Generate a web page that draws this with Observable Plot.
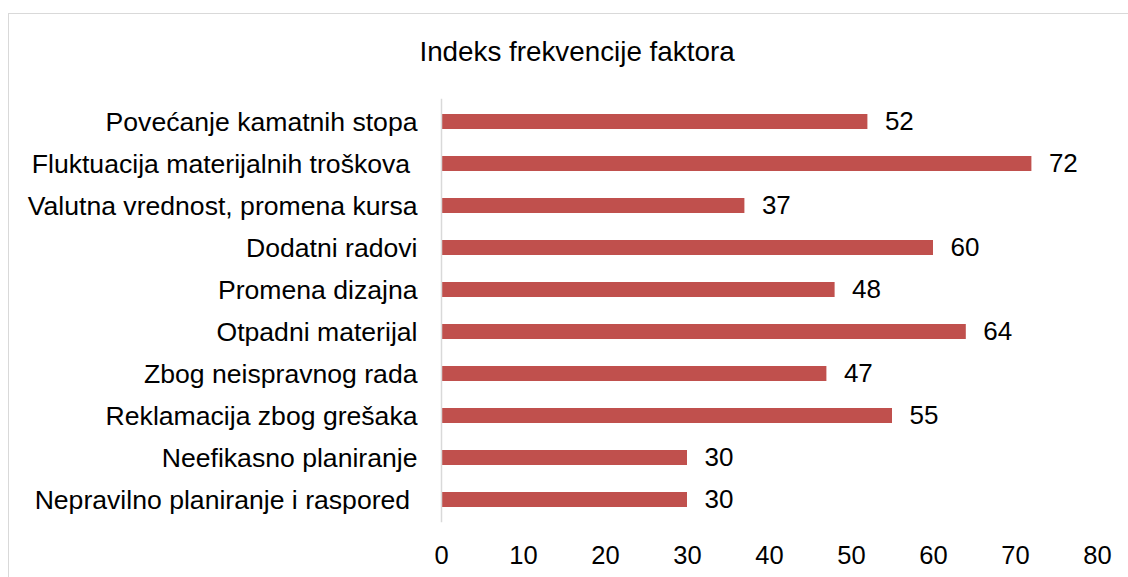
<!DOCTYPE html>
<html>
<head>
<meta charset="utf-8">
<script src="https://cdn.jsdelivr.net/npm/d3@7"></script>
<script src="https://cdn.jsdelivr.net/npm/@observablehq/plot@0.6"></script>
<style>
  html, body { margin: 0; padding: 0; background: #fff; }
  #wrap { position: relative; width: 1128px; height: 577px; overflow: hidden; font-family: "Liberation Sans", Arial, sans-serif; }
  #frame { position: absolute; left: 8px; top: 13px; width: 1300px; height: 800px; border: 1px solid #d9d9d9; box-sizing: border-box; }
  #title { position: absolute; left: 0; top: 37px; width: 1128px; text-align: center; padding-left: 26px; box-sizing: border-box; font-size: 27.8px; line-height: 30px; color: #000; }
  #chart { position: absolute; left: 0; top: 80px; }
  #chart svg text { white-space: pre; }
</style>
</head>
<body>
<div id="wrap">
  <div id="frame"></div>
  <div id="title">Indeks frekvencije faktora</div>
  <div id="chart"></div>
</div>
<script>
const categories = [
  "Povećanje kamatnih stopa",
  "Fluktuacija materijalnih troškova ",
  "Valutna vrednost, promena kursa",
  "Dodatni radovi",
  "Promena dizajna",
  "Otpadni materijal",
  "Zbog neispravnog rada",
  "Reklamacija zbog grešaka",
  "Neefikasno planiranje",
  "Nepravilno planiranje i raspored "
];
const values = [52, 72, 37, 60, 48, 64, 47, 55, 30, 30];
const xTicks = [0, 10, 20, 30, 40, 50, 60, 70, 80];

const data = categories.map((c, i) => ({category: c, value: values[i]}));

const chart = Plot.plot({
  width: 1128,
  height: 497,
  marginTop: 18.8,
  marginBottom: 54.8,
  marginLeft: 441,
  marginRight: 31,
  style: {fontFamily: "'Liberation Sans', Arial, sans-serif", fontSize: "26px", color: "#000", background: "transparent", whiteSpace: "pre"},
  x: {domain: [0, 80], ticks: xTicks},
  y: {domain: categories, paddingInner: 0.65, paddingOuter: 0.325},
  marks: [
    Plot.barX(data, {x: "value", y: "category", fill: "#C0504D"}),
    Plot.ruleX([0], {stroke: "#d9d9d9", strokeWidth: 1.5}),
    Plot.text(data, {x: "value", y: "category", text: d => String(d.value), textAnchor: "start", dx: 17, fontSize: 26, fill: "#000"}),
    Plot.axisX({ticks: xTicks, tickSize: 0, tickPadding: 23.5, fontSize: 25.5, label: null}),
    Plot.axisY({tickSize: 0, tickPadding: 24, fontSize: 26.6, label: null})
  ]
});
document.getElementById("chart").appendChild(chart);
</script>
</body>
</html>
